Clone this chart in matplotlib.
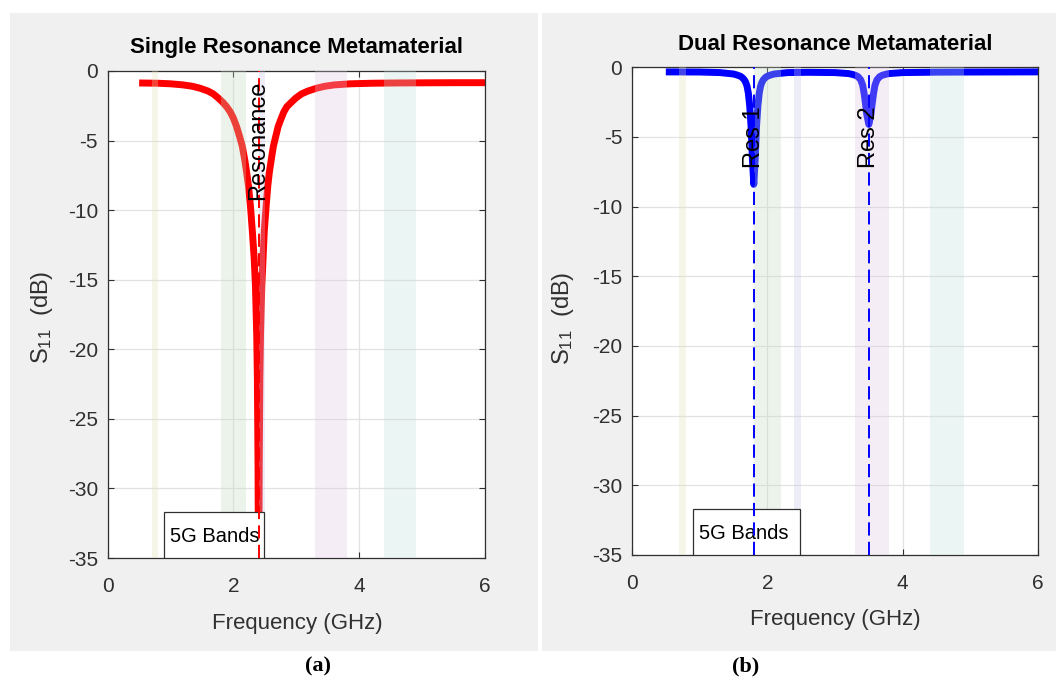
import matplotlib.pyplot as plt
from matplotlib.patches import Rectangle

plt.rcParams['font.family'] = ['Liberation Sans', 'DejaVu Sans']
plt.rcParams['axes.unicode_minus'] = False
plt.rcParams['lines.scale_dashes'] = False
plt.rcParams['mathtext.fontset'] = 'custom'
plt.rcParams['mathtext.rm'] = 'Liberation Sans'
plt.rcParams['mathtext.it'] = 'Liberation Sans'

W, H = 1056, 679
AX_COLOR = '#303030'

FREQ_TICKS = [0, 2, 4, 6]
S11_TICKS = [0, -5, -10, -15, -20, -25, -30, -35]

# 5G bands (GHz)
band_start = [0.7, 1.8, 2.4, 3.3, 4.4]
band_stop = [0.8, 2.2, 2.5, 3.8, 4.9]
band_colors = ['#e1e4b2', '#c0dac0', '#c6c6e8', '#dec6e1', '#c0deda']

# single resonance metamaterial, S11 in dB
single_freq = [0.5, 0.8, 1.0, 1.2, 1.35, 1.47, 1.6, 1.68, 1.76, 1.83, 1.89,
               1.95, 2.0, 2.05, 2.1, 2.14, 2.18, 2.21, 2.24, 2.27, 2.3, 2.33,
               2.35, 2.37, 2.38, 2.39, 2.40, 2.41, 2.42, 2.43, 2.45, 2.47, 2.49,
               2.52, 2.545, 2.57, 2.60, 2.635, 2.67, 2.71, 2.76, 2.80, 2.85,
               2.92, 2.99, 3.08, 3.18, 3.32, 3.45, 3.6, 3.86, 4.2, 4.6, 5.0,
               5.5, 6.0]
single_s11 = [-0.86, -0.88, -0.92, -1.0, -1.1, -1.24, -1.45, -1.65, -1.95,
              -2.25, -2.56, -2.95, -3.4, -4.0, -4.75, -5.4, -6.4, -7.3, -8.3,
              -9.7, -11.5, -13.5, -15.5, -19.0, -22.0, -28.0, -38.0, -28.0,
              -22.0, -19.0, -15.5, -13.5, -11.5, -9.7, -8.3, -7.3, -6.4, -5.4,
              -4.75, -4.0, -3.4, -2.95, -2.56, -2.25, -1.95, -1.65, -1.45,
              -1.24, -1.1, -1.0, -0.92, -0.88, -0.86, -0.85, -0.84, -0.84]
single_res = [2.4]
single_res_labels = ['Resonance']

# dual resonance metamaterial, S11 in dB
dual_freq = [0.5, 1.0, 1.3, 1.5, 1.55, 1.6, 1.63, 1.66, 1.68, 1.7, 1.72, 1.74,
             1.76, 1.78, 1.8, 1.82, 1.84, 1.86, 1.88, 1.9, 1.92, 1.94, 1.97,
             2.0, 2.05, 2.1, 2.3, 2.6, 3.0, 3.2, 3.25, 3.3, 3.34, 3.38, 3.41,
             3.43, 3.45, 3.47, 3.5, 3.53, 3.55, 3.57, 3.59, 3.62, 3.66, 3.7,
             3.75, 3.8, 4.0, 4.5, 5.0, 6.0]
dual_s11 = [-0.33, -0.34, -0.38, -0.48, -0.55, -0.64, -0.74, -0.9, -1.08,
            -1.35, -1.87, -2.8, -4.26, -6.65, -8.4, -6.65, -4.26, -2.8, -1.87,
            -1.35, -1.08, -0.9, -0.74, -0.64, -0.55, -0.48, -0.38, -0.36,
            -0.38, -0.45, -0.5, -0.57, -0.67, -0.9, -1.3, -1.87, -2.6, -3.4,
            -4.1, -3.4, -2.6, -1.87, -1.3, -0.9, -0.67, -0.57, -0.5, -0.45,
            -0.38, -0.35, -0.34, -0.33]
dual_res = [1.8, 3.5]
dual_res_labels = ['Res 1', 'Res 2']


def fig_xy(px, py):
    """pixel position (from top left) -> figure fraction"""
    return px / W, 1 - py / H


def draw_panel(ax, freq, s11, color, res_freqs, res_labels):
    ax.set_facecolor('white')
    ax.plot(freq, s11, color=color, lw=5, zorder=2,
            solid_joinstyle='round', solid_capstyle='butt')
    for lo, hi, c in zip(band_start, band_stop, band_colors):
        ax.axvspan(lo, hi, color=c, alpha=0.3, lw=0, zorder=3)

    # legend-like box for the bands
    ax.add_patch(Rectangle((0.9, -35), 1.59, 3.3, facecolor='white',
                           edgecolor=AX_COLOR, lw=0.9, zorder=4))
    ax.text(0.99, -33.45, '5G Bands', fontsize=14.5, color='black',
            ha='left', va='center', zorder=4.5)

    for f, label in zip(res_freqs, res_labels):
        ax.axvline(f, color=color, lw=1.4, ls=(0, (9.5, 4.5)), zorder=5)
        ax.text(f, -5, label, rotation=90, ha='center', va='center',
                fontsize=17, color='black', zorder=6)

    ax.set_xlim(0, 6)
    ax.set_ylim(-35, 0)
    ax.set_xticks(FREQ_TICKS)
    ax.set_yticks(S11_TICKS)
    ax.set_axisbelow(True)
    ax.grid(True, color='#e2e2e2', lw=0.9)
    ax.tick_params(direction='in', length=4, width=0.8, top=True, right=True,
                   colors=AX_COLOR, labelsize=15)
    ax.tick_params(axis='x', pad=14)
    ax.tick_params(axis='y', pad=7)
    for spine in ax.spines.values():
        spine.set_color(AX_COLOR)
        spine.set_linewidth(0.9)


fig = plt.figure(figsize=(W / 100, H / 100), dpi=100, facecolor='white')

# grey panel backgrounds
fig.add_artist(Rectangle(fig_xy(10, 651), 528 / W, 638 / H,
                         transform=fig.transFigure, facecolor='#f0f0f0',
                         edgecolor='none', zorder=0))
fig.add_artist(Rectangle(fig_xy(542, 651), 514 / W, 638 / H,
                         transform=fig.transFigure, facecolor='#f0f0f0',
                         edgecolor='none', zorder=0))

ax1 = fig.add_axes([107.7 / W, 1 - 558 / H, 377.3 / W, 487 / H])
ax2 = fig.add_axes([632 / W, 1 - 555 / H, 406 / W, 487.7 / H])

draw_panel(ax1, single_freq, single_s11, '#ff0000', single_res, single_res_labels)
draw_panel(ax2, dual_freq, dual_s11, '#0000ff', dual_res, dual_res_labels)

panels = [
    ('Single Resonance Metamaterial', (297, 48), (297, 623), (42, 317), '(a)', (318, 666)),
    ('Dual Resonance Metamaterial', (835, 45), (835, 620), (563, 318), '(b)', (746, 666)),
]
for title, t_pos, x_pos, y_pos, tag, tag_pos in panels:
    fig.text(*fig_xy(*t_pos), title, fontsize=16, fontweight='bold',
             color='black', ha='center', va='center')
    fig.text(*fig_xy(*x_pos), 'Frequency (GHz)', fontsize=16,
             color=AX_COLOR, ha='center', va='center')
    fig.text(*fig_xy(*y_pos), 'S$_{11}$  (dB)', fontsize=17, rotation=90,
             color=AX_COLOR, ha='center', va='center')
    fig.text(*fig_xy(*tag_pos), tag, fontsize=16, fontweight='bold',
             family=['Liberation Serif', 'DejaVu Serif'],
             color='black', ha='center', va='center')

fig.savefig('out.png', dpi=100, facecolor='white')
